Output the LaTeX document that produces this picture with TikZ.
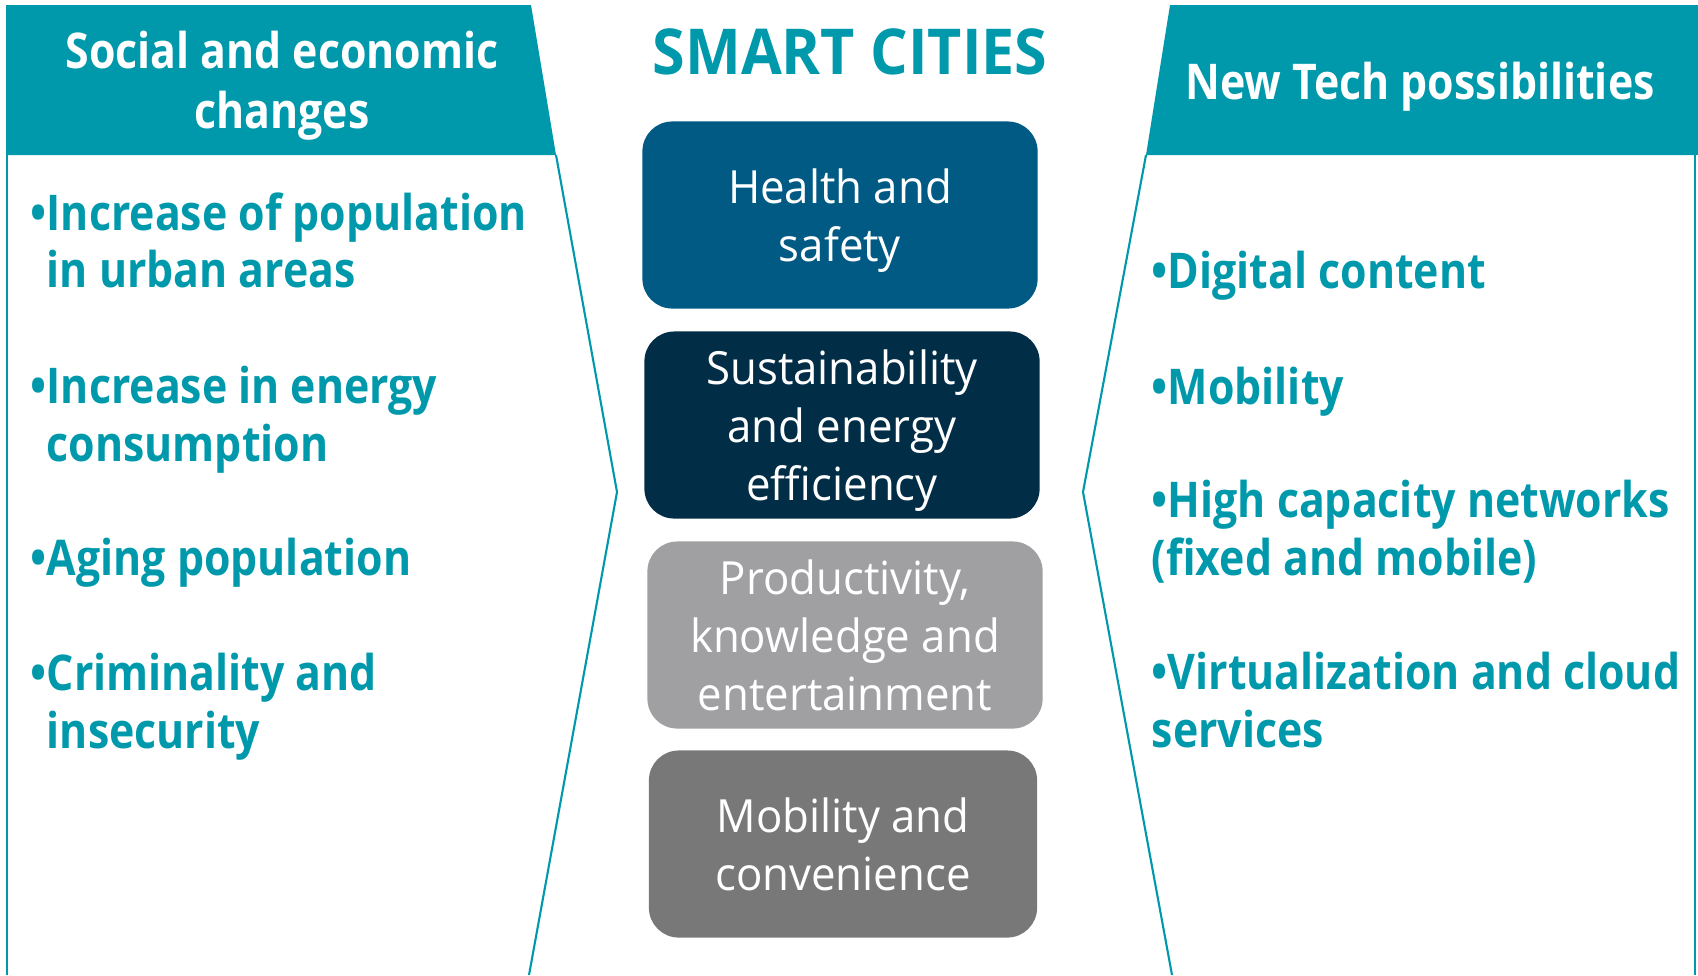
\documentclass[tikz,border=0pt]{standalone}
\usepackage{fontspec}
\setmainfont{Open Sans}
\newfontfamily\itemfont{Open Sans}[FakeStretch=0.87]
\newfontfamily\titlefont{Open Sans}[FakeStretch=0.935]
\newfontfamily\areafont{Open Sans}[FakeStretch=0.957]
\definecolor{cityteal}{HTML}{0099AC}
\definecolor{healthblue}{HTML}{005A84}
\definecolor{energynavy}{HTML}{022D46}
\definecolor{prodgray}{HTML}{A0A0A3}
\definecolor{mobgray}{HTML}{787878}

\begin{document}
\begin{tikzpicture}[
    x=0.01cm, y=-0.01cm,
    header/.style={
        fill=cityteal,
        draw=none
    },
    frame/.style={
        draw=cityteal,
        line width=0.6pt
    },
    headtext/.style={
        font=\itemfont\bfseries\fontsize{14}{17}\selectfont,
        text=white,
        align=center,
        text depth=0pt
    },
    item/.style={
        font=\itemfont\bfseries\fontsize{14}{16.4}\selectfont,
        text=cityteal,
        anchor=west,
        align=left,
        inner sep=0pt,
        text depth=0pt
    },
    area/.style={
        rounded corners=8.5pt,
        minimum width=3.95cm,
        minimum height=1.87cm,
        text=white,
        align=center,
        text depth=0pt,
        font=\areafont\fontsize{13}{16.4}\selectfont
    }
]
\useasboundingbox (0,0) rectangle (1698,975);

% Left panel
\fill[header] (6,5) -- (531,5) -- (556,155) -- (6,155) -- cycle;
\draw[frame] (7,155) -- (7,975);
\draw[frame] (556,155) -- (617,492) -- (529,975);
\node[headtext] (lefthead) at (282,80) {Social and economic\\changes};

% Right panel
\fill[header] (1170,5) -- (1698,5) -- (1698,155) -- (1146,155) -- cycle;
\draw[frame] (1695,155) -- (1695,975);
\draw[frame] (1146,155) -- (1083,492) -- (1172,975);
\node[headtext] (righthead) at (1420,81) {New Tech possibilities};

% Title
\node[font=\titlefont\bfseries\fontsize{18}{20}\selectfont, text=cityteal] (title) at (850,52) {SMART CITIES};

% Centre areas
\node[area, fill=healthblue] (health) at (840,215) {Health and\\safety};
\node[area, fill=energynavy] (energy) at (842,425) {Sustainability\\and energy\\efficiency};
\node[area, fill=prodgray] (productivity) at (845,635) {Productivity,\\knowledge and\\entertainment};
\node[area, fill=mobgray, minimum width=3.88cm] (mobility) at (843,844) {Mobility and\\convenience};

% Social and economic changes
\node[item] (l1) at (30,240) {•Increase of population\\\hphantom{•}in urban areas};
\node[item] (l2) at (30,414) {•Increase in energy\\\hphantom{•}consumption};
\node[item] (l3) at (30,557) {•Aging population};
\node[item] (l4) at (30,701) {•Criminality and\\\hphantom{•}insecurity};

% New tech possibilities
\node[item] (r1) at (1151,270) {•Digital content};
\node[item] (r2) at (1151,386) {•Mobility};
\node[item] (r3) at (1151,528) {•High capacity networks\\(fixed and mobile)};
\node[item] (r4) at (1151,700) {•Virtualization and cloud\\services};

\end{tikzpicture}
\end{document}
